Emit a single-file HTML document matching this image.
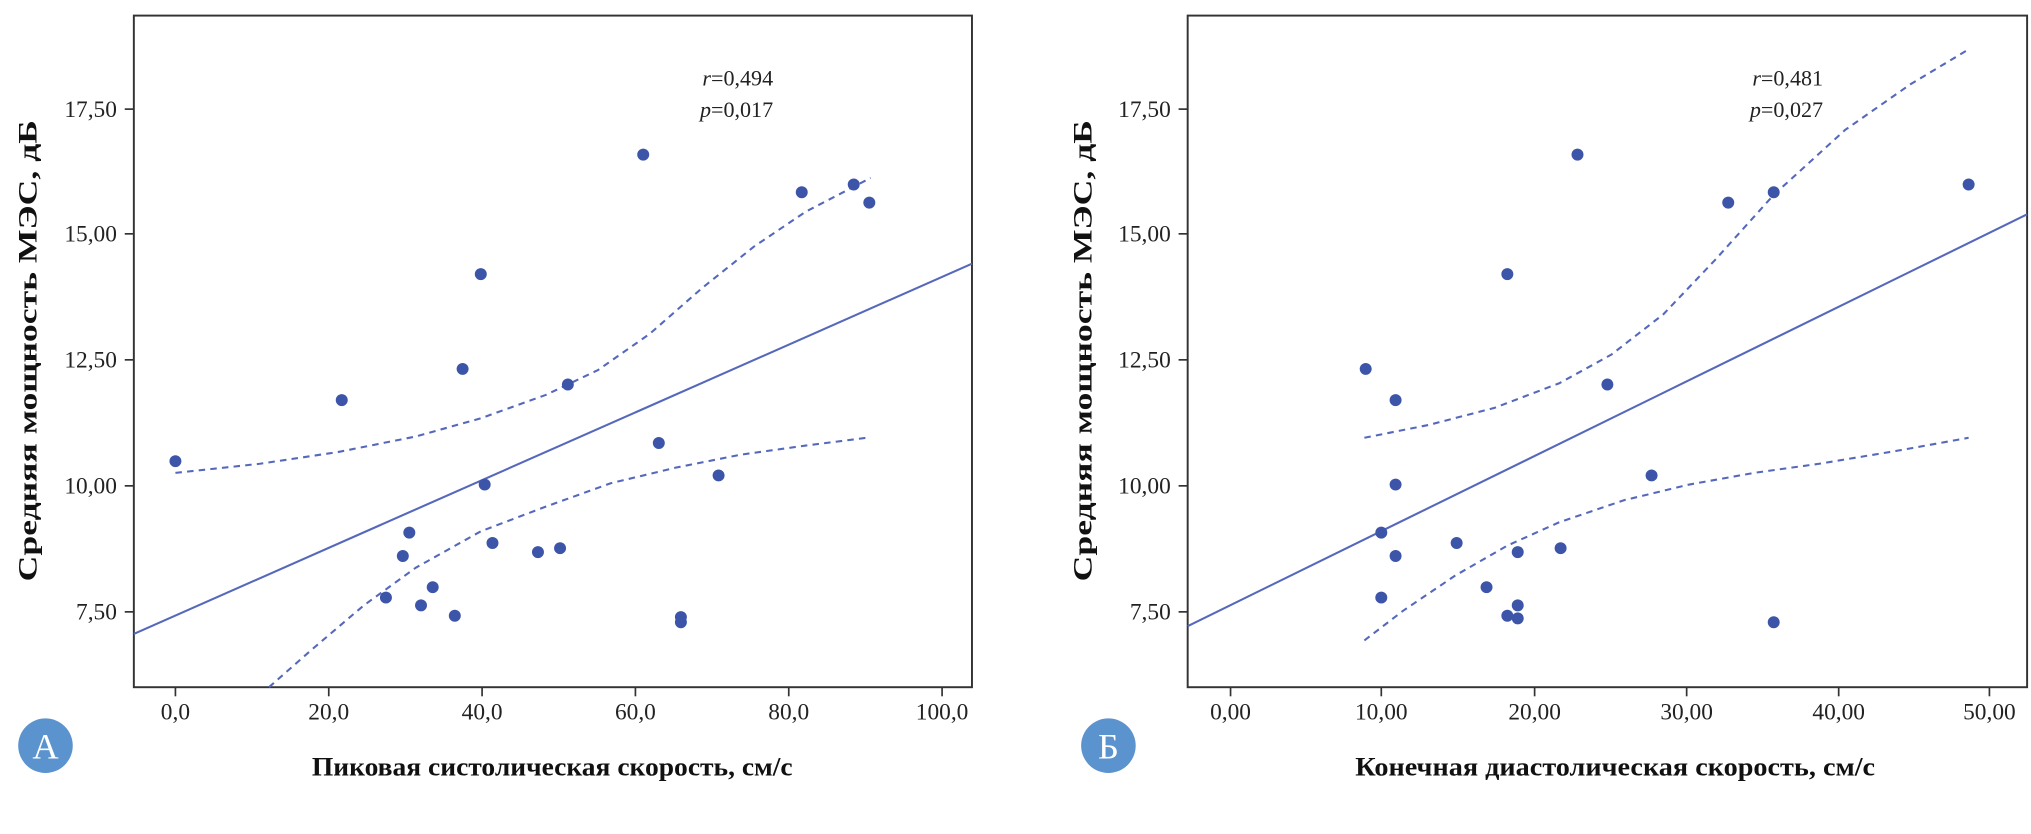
<!DOCTYPE html>
<html><head><meta charset="utf-8"><style>html,body{margin:0;padding:0;background:#fff}svg{display:block}</style></head>
<body>
<svg width="2031" height="834" viewBox="0 0 1563 642" preserveAspectRatio="none" xmlns="http://www.w3.org/2000/svg" font-family="Liberation Serif, serif">
<rect width="1563" height="642" fill="#fff"/>
<!-- Panel A -->
<g>
<rect x="103" y="12" width="645" height="517" fill="none" stroke="#333" stroke-width="1.5"/>
<g stroke="#333" stroke-width="1.3">
<line x1="96" y1="84" x2="103" y2="84"/><line x1="96" y1="180" x2="103" y2="180"/><line x1="96" y1="277" x2="103" y2="277"/><line x1="96" y1="374" x2="103" y2="374"/><line x1="96" y1="471" x2="103" y2="471"/>
<line x1="135" y1="529" x2="135" y2="536"/><line x1="253" y1="529" x2="253" y2="536"/><line x1="371" y1="529" x2="371" y2="536"/><line x1="489" y1="529" x2="489" y2="536"/><line x1="607" y1="529" x2="607" y2="536"/><line x1="725" y1="529" x2="725" y2="536"/>
</g>
<g font-size="18" fill="#222" text-anchor="end">
<text x="90" y="90">17,50</text><text x="90" y="186">15,00</text><text x="90" y="283">12,50</text><text x="90" y="380">10,00</text><text x="90" y="477">7,50</text>
</g>
<g font-size="18" fill="#222" text-anchor="middle">
<text x="135" y="554">0,0</text><text x="253" y="554">20,0</text><text x="371" y="554">40,0</text><text x="489" y="554">60,0</text><text x="607" y="554">80,0</text><text x="725" y="554">100,0</text>
</g>
<text x="425" y="597" font-size="20" font-weight="bold" text-anchor="middle" textLength="370" lengthAdjust="spacingAndGlyphs" fill="#111">Пиковая систолическая скорость, см/с</text>
<text transform="translate(28,270) rotate(-90)" font-size="20" font-weight="bold" text-anchor="middle" textLength="355" lengthAdjust="spacingAndGlyphs" fill="#111">Средняя мощность МЭС, дБ</text>
<text x="595" y="66" font-size="17" text-anchor="end" fill="#222"><tspan font-style="italic">r</tspan>=0,494</text>
<text x="595" y="90" font-size="17" text-anchor="end" fill="#222"><tspan font-style="italic">p</tspan>=0,017</text>
<line x1="103" y1="488" x2="748" y2="203" stroke="#5568bb" stroke-width="1.6"/>
<polyline points="135,364 200,357 260,348 320,336 370,322 420,304 460,285 500,257 540,222 580,190 620,163 670,137" fill="none" stroke="#5568bb" stroke-width="1.6" stroke-dasharray="5,4" stroke-linejoin="round"/>
<polyline points="207,529 240,500 280,466 320,437 370,409 420,390 470,372 520,360 570,350 620,343 667,337" fill="none" stroke="#5568bb" stroke-width="1.6" stroke-dasharray="5,4" stroke-linejoin="round"/>
<g fill="#3c55a8">
<circle cx="135" cy="355" r="4.6"/><circle cx="263" cy="308" r="4.6"/><circle cx="297" cy="460" r="4.6"/><circle cx="310" cy="428" r="4.6"/><circle cx="315" cy="410" r="4.6"/><circle cx="324" cy="466" r="4.6"/><circle cx="333" cy="452" r="4.6"/><circle cx="350" cy="474" r="4.6"/><circle cx="356" cy="284" r="4.6"/><circle cx="370" cy="211" r="4.6"/><circle cx="373" cy="373" r="4.6"/><circle cx="379" cy="418" r="4.6"/><circle cx="414" cy="425" r="4.6"/><circle cx="431" cy="422" r="4.6"/><circle cx="437" cy="296" r="4.6"/><circle cx="495" cy="119" r="4.6"/><circle cx="507" cy="341" r="4.6"/><circle cx="524" cy="475" r="4.6"/><circle cx="524" cy="479" r="4.6"/><circle cx="553" cy="366" r="4.6"/><circle cx="617" cy="148" r="4.6"/><circle cx="657" cy="142" r="4.6"/><circle cx="669" cy="156" r="4.6"/>
</g>
<circle cx="35" cy="574" r="21" fill="#5b93cf"/>
<text x="35" y="584" font-size="28" fill="#fff" text-anchor="middle">А</text>
</g>
<!-- Panel B -->
<g>
<rect x="914" y="12" width="646" height="517" fill="none" stroke="#333" stroke-width="1.5"/>
<g stroke="#333" stroke-width="1.3">
<line x1="907" y1="84" x2="914" y2="84"/><line x1="907" y1="180" x2="914" y2="180"/><line x1="907" y1="277" x2="914" y2="277"/><line x1="907" y1="374" x2="914" y2="374"/><line x1="907" y1="471" x2="914" y2="471"/>
<line x1="947" y1="529" x2="947" y2="536"/><line x1="1063" y1="529" x2="1063" y2="536"/><line x1="1181" y1="529" x2="1181" y2="536"/><line x1="1298" y1="529" x2="1298" y2="536"/><line x1="1415" y1="529" x2="1415" y2="536"/><line x1="1531" y1="529" x2="1531" y2="536"/>
</g>
<g font-size="18" fill="#222" text-anchor="end">
<text x="901" y="90">17,50</text><text x="901" y="186">15,00</text><text x="901" y="283">12,50</text><text x="901" y="380">10,00</text><text x="901" y="477">7,50</text>
</g>
<g font-size="18" fill="#222" text-anchor="middle">
<text x="947" y="554">0,00</text><text x="1063" y="554">10,00</text><text x="1181" y="554">20,00</text><text x="1298" y="554">30,00</text><text x="1415" y="554">40,00</text><text x="1531" y="554">50,00</text>
</g>
<text x="1243" y="597" font-size="20" font-weight="bold" text-anchor="middle" textLength="400" lengthAdjust="spacingAndGlyphs" fill="#111">Конечная диастолическая скорость, см/с</text>
<text transform="translate(840,270) rotate(-90)" font-size="20" font-weight="bold" text-anchor="middle" textLength="355" lengthAdjust="spacingAndGlyphs" fill="#111">Средняя мощность МЭС, дБ</text>
<text x="1403" y="66" font-size="17" text-anchor="end" fill="#222"><tspan font-style="italic">r</tspan>=0,481</text>
<text x="1403" y="90" font-size="17" text-anchor="end" fill="#222"><tspan font-style="italic">p</tspan>=0,027</text>
<line x1="914" y1="482" x2="1560" y2="165" stroke="#5568bb" stroke-width="1.6"/>
<polyline points="1050,337 1100,327 1150,314 1200,295 1240,273 1280,242 1320,200 1365,150 1420,100 1470,65 1515,38" fill="none" stroke="#5568bb" stroke-width="1.6" stroke-dasharray="5,4" stroke-linejoin="round"/>
<polyline points="1050,493 1080,470 1120,443 1160,420 1200,402 1250,385 1300,373 1350,364 1400,357 1460,347 1515,337" fill="none" stroke="#5568bb" stroke-width="1.6" stroke-dasharray="5,4" stroke-linejoin="round"/>
<g fill="#3c55a8">
<circle cx="1051" cy="284" r="4.6"/><circle cx="1074" cy="308" r="4.6"/><circle cx="1074" cy="373" r="4.6"/><circle cx="1063" cy="410" r="4.6"/><circle cx="1074" cy="428" r="4.6"/><circle cx="1063" cy="460" r="4.6"/><circle cx="1121" cy="418" r="4.6"/><circle cx="1144" cy="452" r="4.6"/><circle cx="1160" cy="474" r="4.6"/><circle cx="1168" cy="425" r="4.6"/><circle cx="1168" cy="466" r="4.6"/><circle cx="1168" cy="476" r="4.6"/><circle cx="1201" cy="422" r="4.6"/><circle cx="1160" cy="211" r="4.6"/><circle cx="1214" cy="119" r="4.6"/><circle cx="1237" cy="296" r="4.6"/><circle cx="1271" cy="366" r="4.6"/><circle cx="1330" cy="156" r="4.6"/><circle cx="1365" cy="148" r="4.6"/><circle cx="1365" cy="479" r="4.6"/><circle cx="1515" cy="142" r="4.6"/>
</g>
<circle cx="853" cy="574" r="21" fill="#5b93cf"/>
<text x="853" y="584" font-size="28" fill="#fff" text-anchor="middle">Б</text>
</g>
</svg>
</body></html>
